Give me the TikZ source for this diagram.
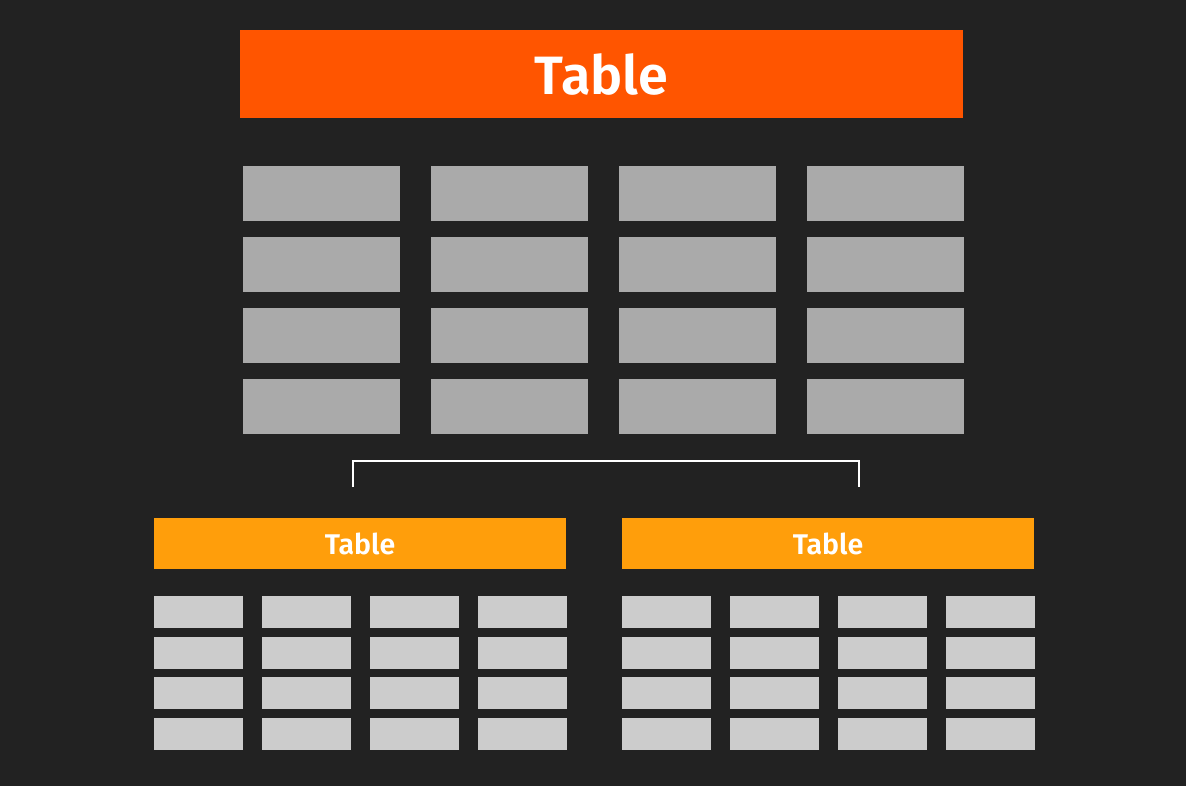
\documentclass[tikz,border=0pt]{standalone}
\usepackage{fontspec}
\setmainfont{Fira Sans}[BoldFont={Fira Sans SemiBold}]
\definecolor{bgdark}{HTML}{222222}
\definecolor{mainhead}{HTML}{FF5500}
\definecolor{subhead}{HTML}{FF9E0B}
\definecolor{maincell}{HTML}{AAAAAA}
\definecolor{subcell}{HTML}{CCCCCC}
\tikzset{
  mainbar/.style={fill=mainhead, text=white, font=\fontsize{54}{60}\selectfont\bfseries,
    minimum width=723pt, minimum height=88pt, inner sep=0pt},
  subbar/.style={fill=subhead, text=white, font=\fontsize{28.5}{32}\selectfont\bfseries,
    minimum width=412pt, minimum height=51pt, inner sep=0pt},
  bigcell/.style={fill=maincell},
  smallcell/.style={fill=subcell},
  splitline/.style={draw=white, line width=2pt}
}
\begin{document}
\begin{tikzpicture}[x=1pt,y=-1pt]
    \fill [bgdark] (0,0) rectangle (1186,786);
    \useasboundingbox (0,0) rectangle (1186,786);
    % whole table
    \node [mainbar] (whole) at (601.5,74) {Table};
    \foreach \i in {0,...,3}
        \foreach \j in {0,...,3}
            \fill [bigcell] (243+188*\i,166+71*\j) rectangle ++(157,55);
    % split
    \coordinate (splitL) at (352.5,487);
    \coordinate (splitR) at (858.5,487);
    \draw [splitline] (splitL) -- ++(0,-26) -| (splitR);
    % the two parts
    \node [subbar] (partA) at (360,543.5) {Table};
    \node [subbar] (partB) at (828,543.5) {Table};
    \foreach \x in {154,622}
        \foreach \i in {0,...,3}
            \foreach \j in {0,...,3}
                \fill [smallcell] (\x+108*\i,596+40.7*\j) rectangle ++(88.5,32);
\end{tikzpicture}
\end{document}
